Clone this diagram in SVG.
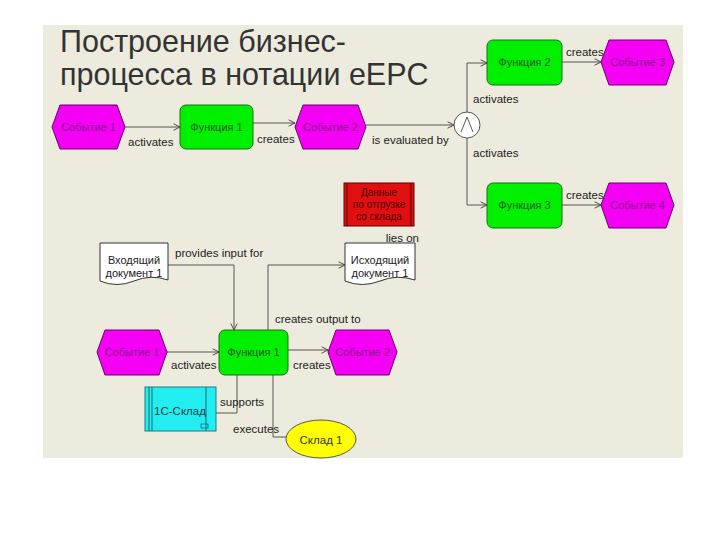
<svg xmlns="http://www.w3.org/2000/svg" width="720" height="540" viewBox="0 0 720 540">
<defs>
<marker id="arr" viewBox="0 0 10 10" refX="9" refY="5" markerWidth="8" markerHeight="8" markerUnits="userSpaceOnUse" orient="auto">
<path d="M1,1 L9,5 L1,9" fill="none" stroke="#444" stroke-width="1.2"/>
</marker>
<style>
.ev{fill:#F400F4;stroke:#6a006a;stroke-width:1}
.evt{fill:#8a1a8a;font:11px "Liberation Sans",Arial,sans-serif;text-anchor:middle}
.fn{fill:#00F000;stroke:#1f6a1f;stroke-width:1}
.fnt{fill:#1a5a1a;font:11px "Liberation Sans",Arial,sans-serif;text-anchor:middle}
.lbl{fill:#222;font:11.5px "Liberation Sans",Arial,sans-serif}
.con{fill:none;stroke:#555;stroke-width:1}
.doc{fill:#fff;stroke:#333;stroke-width:1}
.dt{fill:#222;font:11px "Liberation Sans",Arial,sans-serif;text-anchor:middle}
</style>
</defs>
<rect x="0" y="0" width="720" height="540" fill="#fff"/>
<rect x="43" y="25" width="640" height="433" fill="#ECEBDE"/>
<g id="title" fill="#333" font-family="Liberation Sans, Arial, sans-serif" font-size="30.5">
<text x="60" y="52">Построение бизнес-</text>
<text x="60" y="85">процесса в нотации eEPC</text>
</g>
<g id="connectors">
<path class="con" d="M125,127 H180" marker-end="url(#arr)"/>
<path class="con" d="M253,123 H295" marker-end="url(#arr)"/>
<path class="con" d="M366,125 H454" marker-end="url(#arr)"/>
<path class="con" d="M467,112 V63 H487" marker-end="url(#arr)"/>
<path class="con" d="M467,138 V205 H487" marker-end="url(#arr)"/>
<path class="con" d="M562,62 H601" marker-end="url(#arr)"/>
<path class="con" d="M562,205 H601" marker-end="url(#arr)"/>
<path class="con" d="M168,265 H234 V330" marker-end="url(#arr)"/>
<path class="con" d="M268,330 V265 H345" marker-end="url(#arr)"/>
<path class="con" d="M167,352 H219" marker-end="url(#arr)"/>
<path class="con" d="M288,350 H328" marker-end="url(#arr)"/>
<path class="con" d="M237,375 V413 H216"/>
<path class="con" d="M273,375 V437 H286"/>
<text class="lbl" x="128" y="146">activates</text>
<text class="lbl" x="257" y="143">creates</text>
<text class="lbl" x="372" y="144">is evaluated by</text>
<text class="lbl" x="473" y="103">activates</text>
<text class="lbl" x="473" y="157">activates</text>
<text class="lbl" x="566" y="56">creates</text>
<text class="lbl" x="566" y="199">creates</text>
<text class="lbl" x="419" y="242" text-anchor="end">lies on</text>
<text class="lbl" x="175" y="257">provides input for</text>
<text class="lbl" x="275" y="323">creates output to</text>
<text class="lbl" x="171" y="369">activates</text>
<text class="lbl" x="293" y="369">creates</text>
<text class="lbl" x="220" y="406">supports</text>
<text class="lbl" x="233" y="433">executes</text>
</g>
<g id="event1">
<polygon class="ev" points="52,127 60,105 117,105 125,127 117,149 60,149"/>
<text class="evt" x="88.5" y="131">Событие 1</text>
</g>
<g id="func1">
<rect class="fn" x="180" y="105" width="73" height="44" rx="6"/>
<text class="fnt" x="216.5" y="131">Функция 1</text>
</g>
<g id="event2">
<polygon class="ev" points="295,127 303,105 358,105 366,127 358,149 303,149"/>
<text class="evt" x="330.5" y="131">Событие 2</text>
</g>
<g id="and">
<circle cx="467" cy="125" r="13" fill="#fff" stroke="#555" stroke-width="1"/>
<polyline points="461,132 467,117 473,132" fill="none" stroke="#555" stroke-width="1"/>
</g>
<g id="func2">
<rect class="fn" x="487" y="40" width="75" height="45" rx="6"/>
<text class="fnt" x="524.5" y="66">Функция 2</text>
</g>
<g id="event3">
<polygon class="ev" points="601,62 609,40 666,40 674,62 666,85 609,85"/>
<text class="evt" x="637.5" y="66">Событие 3</text>
</g>
<g id="func3">
<rect class="fn" x="487" y="183" width="75" height="45" rx="6"/>
<text class="fnt" x="524.5" y="209">Функция 3</text>
</g>
<g id="event4">
<polygon class="ev" points="601,205 609,183 666,183 674,205 666,228 609,228"/>
<text class="evt" x="637.5" y="209">Событие 4</text>
</g>
<g id="data">
<rect x="344" y="183" width="70" height="43" fill="#E01010" stroke="#5a0000" stroke-width="1"/>
<line x1="347" y1="183" x2="347" y2="226" stroke="#5a0000"/>
<line x1="411" y1="183" x2="411" y2="226" stroke="#5a0000"/>
<text x="379" y="196" fill="#4a0000" font-family="Liberation Sans, Arial, sans-serif" font-size="10" text-anchor="middle">Данные</text>
<text x="379" y="208" fill="#4a0000" font-family="Liberation Sans, Arial, sans-serif" font-size="10" text-anchor="middle">по отгрузке</text>
<text x="379" y="220" fill="#4a0000" font-family="Liberation Sans, Arial, sans-serif" font-size="10" text-anchor="middle">со склада</text>
</g>
<g id="docIn">
<path class="doc" d="M100,243 H168 V280 Q151,274 134,281 Q117,288 100,281 Z"/>
<text class="dt" x="134" y="264">Входящий</text>
<text class="dt" x="134" y="277">документ 1</text>
</g>
<g id="docOut">
<path class="doc" d="M345,243 H415 V280 Q397,274 380,281 Q362,288 345,281 Z"/>
<text class="dt" x="380" y="264">Исходящий</text>
<text class="dt" x="380" y="277">документ 1</text>
</g>
<g id="event1b">
<polygon class="ev" points="97,352 105,330 159,330 167,352 159,375 105,375"/>
<text class="evt" x="132" y="356">Событие 1</text>
</g>
<g id="func1b">
<rect class="fn" x="219" y="330" width="69" height="45" rx="6"/>
<text class="fnt" x="253.5" y="356">Функция 1</text>
</g>
<g id="event2b">
<polygon class="ev" points="328,352 336,330 389,330 397,352 389,375 336,375"/>
<text class="evt" x="362.5" y="356">Событие 2</text>
</g>
<g id="system">
<rect x="145" y="387" width="71" height="44" fill="#22EEF2" stroke="#1a7a80" stroke-width="1"/>
<line x1="149" y1="387" x2="149" y2="431" stroke="#1a6a70"/>
<line x1="152" y1="387" x2="152" y2="431" stroke="#1a6a70"/>
<line x1="206" y1="387" x2="206" y2="431" stroke="#1a6a70"/>
<rect x="201" y="424" width="7" height="4" fill="none" stroke="#1a6a70" stroke-width="0.8"/>
<text x="180" y="415" fill="#1a3a40" font-family="Liberation Sans, Arial, sans-serif" font-size="11.5" text-anchor="middle">1С-Склад</text>
</g>
<g id="sklad">
<ellipse cx="321" cy="439" rx="35" ry="19" fill="#FFFF00" stroke="#555" stroke-width="1"/>
<text x="321" y="444" fill="#333" font-family="Liberation Sans, Arial, sans-serif" font-size="11.5" text-anchor="middle">Склад 1</text>
</g>
</svg>
